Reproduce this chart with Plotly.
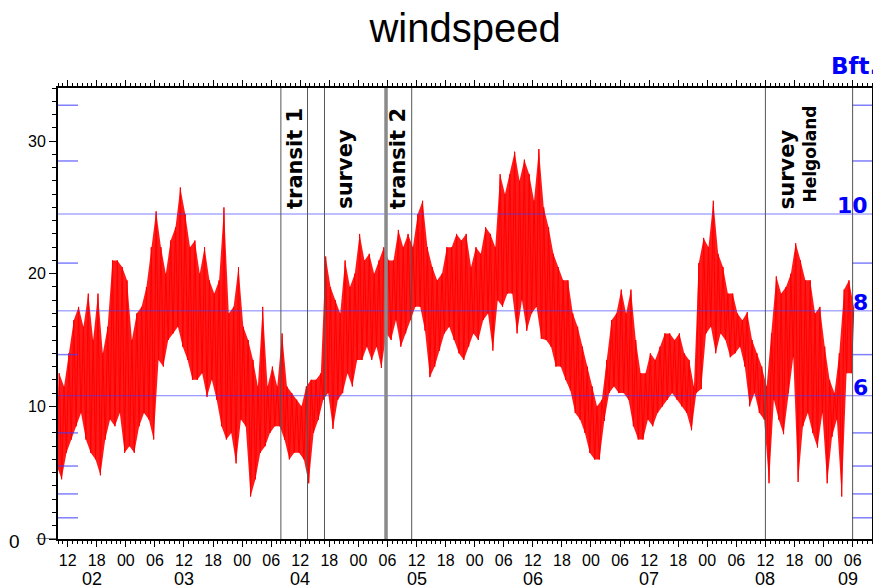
import plotly.graph_objects as go
import pandas as pd

# ---------------- data ----------------
start_time = "2000-01-02 10:00"   # left edge of the time axis
end_time = "2000-01-09 10:00"     # right edge of the time axis

# hourly upper / lower envelope of the wind speed record (m/s), hour 0 = day 02 10:00
wind_high = [
    12.5, 11.5, 14, 16.5, 17.5, 16, 18.5, 15, 18.5, 14,
    16, 21, 21, 20.5, 19.5, 15, 17, 17.5, 19, 22,
    24.7, 22, 20, 22.5, 23.5, 26.5, 24.5, 22, 22.5, 20,
    22, 19.5, 18.5, 19.5, 25, 17, 17.5, 20.5, 16, 15,
    13.5, 11.5, 17.5, 11.5, 13, 11.5, 15.5, 11.5, 11, 10.5,
    10, 11.5, 12, 12, 12.5, 21.3, 19, 18, 17, 21,
    19, 20, 23, 21, 21.5, 20, 21, 22, 21, 21,
    23.3, 22, 23, 22, 24.5, 25.5, 22, 20.5, 19.5, 20,
    22, 22, 23, 22.5, 23, 20.5, 22, 21.5, 23.5, 23,
    22, 27.5, 26, 27.5, 29.2, 27, 28.6, 27.5, 25.5, 29.4,
    25, 23.5, 21.5, 20.5, 19.5, 19.5, 17, 16, 14.5, 13,
    11.5, 10, 10.5, 13.5, 16.5, 17, 18.8, 17, 18.8, 15,
    12.5, 12.5, 14, 13.5, 14.5, 15.5, 15.5, 15, 15.5, 14,
    13.5, 11.5, 20.8, 22.7, 22, 25.5, 21.5, 20.5, 18.5, 18.5,
    17, 16.5, 17.1, 15, 14, 13, 11.5, 15.5, 19.8, 18.5,
    19, 20, 22.3, 21, 19.5, 19.5, 17, 17.5, 14.5, 12,
    11, 14, 18.8, 19.5, 17.5,
]
wind_low = [
    5.5, 4.5, 6.5, 7.5, 8.5, 9.5, 7.5, 6.5, 6, 4.8,
    7.5, 9, 8.5, 9.5, 6.5, 7, 6.5, 8.5, 9.5, 9,
    7.5, 13.5, 13, 15, 15.5, 16, 14.5, 13.5, 12, 12,
    12.5, 10.7, 12, 10.5, 8.5, 7.5, 8, 5.7, 9, 8.5,
    3.2, 4.5, 6.5, 7, 8, 8.5, 8.5, 7.5, 6, 6.5,
    6.5, 6, 4.2, 8, 9, 10.5, 11, 8.3, 10.5, 11,
    12.5, 11.5, 13.5, 13.5, 14.5, 13.5, 14.5, 12.9, 15.5, 15,
    16.5, 14.5, 15.5, 16.5, 17.5, 17.5, 15.7, 12.2, 13, 14.2,
    15.5, 16, 15, 14, 13.5, 14.5, 15.5, 15, 16.5, 17,
    14.2, 18, 17.5, 18.5, 18.5, 15.5, 18, 15.7, 17, 17.5,
    15.1, 15, 14.5, 13, 13, 12, 11.2, 9.5, 9, 8,
    6.5, 6, 6, 8.9, 11, 11.5, 11, 11, 10.5, 8.5,
    7.5, 7.5, 9, 8.5, 9.5, 10, 10.5, 11, 10.5, 10,
    9.5, 8.2, 11, 11.3, 15.5, 16, 14, 15.5, 15, 13.7,
    14, 14.5, 13, 10, 11, 9.5, 9, 4.2, 10.5, 9,
    7.9, 11, 13.7, 4.3, 8.5, 9.5, 8, 6.9, 9.5, 4.2,
    7.7, 9, 3.2, 12.5, 12.5,
]

# cruise events (hours after start) and their labels
event_hours = [46, 51.5, 55, 67.7, 73, 146, 164]
label_texts = ["transit 1", "survey", "transit 2", "survey", "Helgoland"]
label_hours = [48.8, 59.2, 70.1, 150.5, 155.0]

# Beaufort class boundaries (m/s)
bft_bounds = [1.6, 3.4, 5.5, 8.0, 13.9, 20.8, 28.5, 32.7]
bft_main_bounds = [10.8, 17.2, 24.5]
bft_main_labels = ["6", "8", "10"]

y_range = [0, 34]
y_ticks = [0, 10, 20, 30]

# ---------------- figure ----------------
# the page body has an 8px margin, so the figure is 8px smaller and margins shifted
OFF = 8
W, HGT = 881 - OFF, 587 - OFF
ML, MT, PW, PH = 58 - OFF, 88 - OFF, 814, 451
MR, MB = W - ML - PW, HGT - MT - PH
ypx = PH / (y_range[1] - y_range[0])

t0 = pd.Timestamp(start_time)
t1 = pd.Timestamp(end_time)
H = pd.Timedelta(hours=1)

x_lo = [t0 + (i - 0.25) * H for i in range(len(wind_low))]
x_hi = [t0 + (i + 0.25) * H for i in range(len(wind_high))]
xs, ys = [], []
for a, b, lo, hi in zip(x_lo, x_hi, wind_low, wind_high):
    xs += [a, b]
    ys += [lo, hi]

fig = go.Figure()
# dense core: area between the envelopes
fig.add_trace(go.Scatter(x=x_hi + x_lo[::-1], y=wind_high + wind_low[::-1],
                         mode="lines", fill="toself", fillcolor="rgba(255,0,0,0.9)",
                         line=dict(width=0, color="rgba(255,0,0,0)"),
                         showlegend=False, hoverinfo="skip"))
# individual strokes / spikes
fig.add_trace(go.Scatter(x=xs, y=ys, mode="lines",
                         line=dict(color="#ff0000", width=1),
                         showlegend=False, hoverinfo="skip"))

shapes = []
blue = "rgba(60,60,255,0.65)"
for b in bft_main_bounds:
    shapes.append(dict(type="line", xref="paper", yref="y", x0=0, x1=1, y0=b, y1=b,
                       line=dict(color=blue, width=1), layer="above"))
for b in bft_bounds:
    shapes.append(dict(type="line", xref="paper", yref="y", x0=0, x1=20 / PW, y0=b, y1=b,
                       line=dict(color=blue, width=1.5), layer="above"))
    shapes.append(dict(type="line", xref="paper", yref="y", x0=1 - 20 / PW, x1=1, y0=b, y1=b,
                       line=dict(color=blue, width=1.5), layer="above"))
for h in event_hours:
    thick = abs(h - 67.7) < 0.01
    tx = t0 + h * H
    shapes.append(dict(type="line", xref="x", yref="paper", x0=tx, x1=tx, y0=0, y1=1,
                       line=dict(color="#8a8a8a" if thick else "#555555",
                                 width=3.5 if thick else 1), layer="above"))
# small stroke through the "0" label
shapes.append(dict(type="line", xref="paper", yref="y", x0=-22 / PW, x1=0, y0=0, y1=0,
                   line=dict(color="black", width=1)))

annotations = []
# rotated cruise labels
for txt, h in zip(label_texts, label_hours):
    small = txt == "Helgoland"
    annotations.append(dict(text=txt, x=t0 + h * H,
                            y=(539 - (205 if small else 211)) / ypx,
                            xref="x", yref="y", textangle=-90, showarrow=False,
                            xanchor="center", yanchor="bottom",
                            font=dict(family="DejaVu Sans", size=17 if small else 21,
                                      color="black", weight="bold")))
# Beaufort labels
for b, lab in zip(bft_main_bounds, bft_main_labels):
    annotations.append(dict(text=lab, x=1, y=b, xref="paper", yref="y", showarrow=False,
                            xanchor="right", yanchor="bottom", xshift=-2, yshift=-6,
                            font=dict(family="DejaVu Sans", size=22, color="#0000ff", weight="bold")))
annotations.append(dict(text="Bft.", x=1, y=1, xref="paper", yref="paper", showarrow=False,
                        xanchor="right", yanchor="middle", xshift=8, yshift=22,
                        font=dict(family="DejaVu Sans", size=23, color="#0000ff", weight="bold")))
# day labels (centred in the visible part of each day)
day = t0.normalize()
while day < t1:
    a = max(day, t0)
    b = min(day + pd.Timedelta(days=1), t1)
    annotations.append(dict(text=day.strftime("%d"), x=a + (b - a) / 2, y=0,
                            xref="x", yref="paper", showarrow=False,
                            xanchor="center", yanchor="middle", yshift=-39.5,
                            font=dict(family="Liberation Sans", size=18, color="black")))
    day += pd.Timedelta(days=1)
# large origin "0"
annotations.append(dict(text="0", x=0, y=0, xref="paper", yref="paper", showarrow=False,
                        xanchor="center", yanchor="middle", xshift=-44, yshift=-2,
                        font=dict(family="Liberation Sans", size=19, color="black")))

fig.update_layout(
    width=W, height=HGT,
    margin=dict(l=ML, r=MR, t=MT, b=MB, autoexpand=False),
    paper_bgcolor="white", plot_bgcolor="white",
    title=dict(text="windspeed", x=0.5, xref="paper", xanchor="center",
               y=1 - (28 - OFF) / HGT, yref="container", yanchor="middle", automargin=False,
               font=dict(family="Liberation Sans", size=40, color="black")),
    shapes=shapes, annotations=annotations,
    xaxis=dict(type="date", range=[t0, t1], tickformat="%H", automargin=False,
               tick0="2000-01-02 00:00", dtick=6 * 3600 * 1000,
               ticks="outside", ticklen=6, tickwidth=1, tickcolor="black",
               minor=dict(dtick=3600 * 1000, ticks="outside", ticklen=3, tickcolor="black",
                          showgrid=False),
               showline=True, linecolor="black", linewidth=2, mirror="ticks",
               showgrid=False, zeroline=False,
               tickfont=dict(family="Liberation Sans", size=16, color="black")),
    yaxis=dict(range=y_range, tickvals=y_ticks, automargin=False,
               ticks="outside", ticklen=7, tickwidth=1, tickcolor="black",
               minor=dict(dtick=1, ticks="outside", ticklen=4, tickcolor="black", showgrid=False),
               showline=True, linecolor="black", linewidth=2, mirror="ticks",
               showgrid=False, zeroline=False,
               tickfont=dict(family="Liberation Sans", size=16, color="black")),
)

fig.write_html("out.html")
